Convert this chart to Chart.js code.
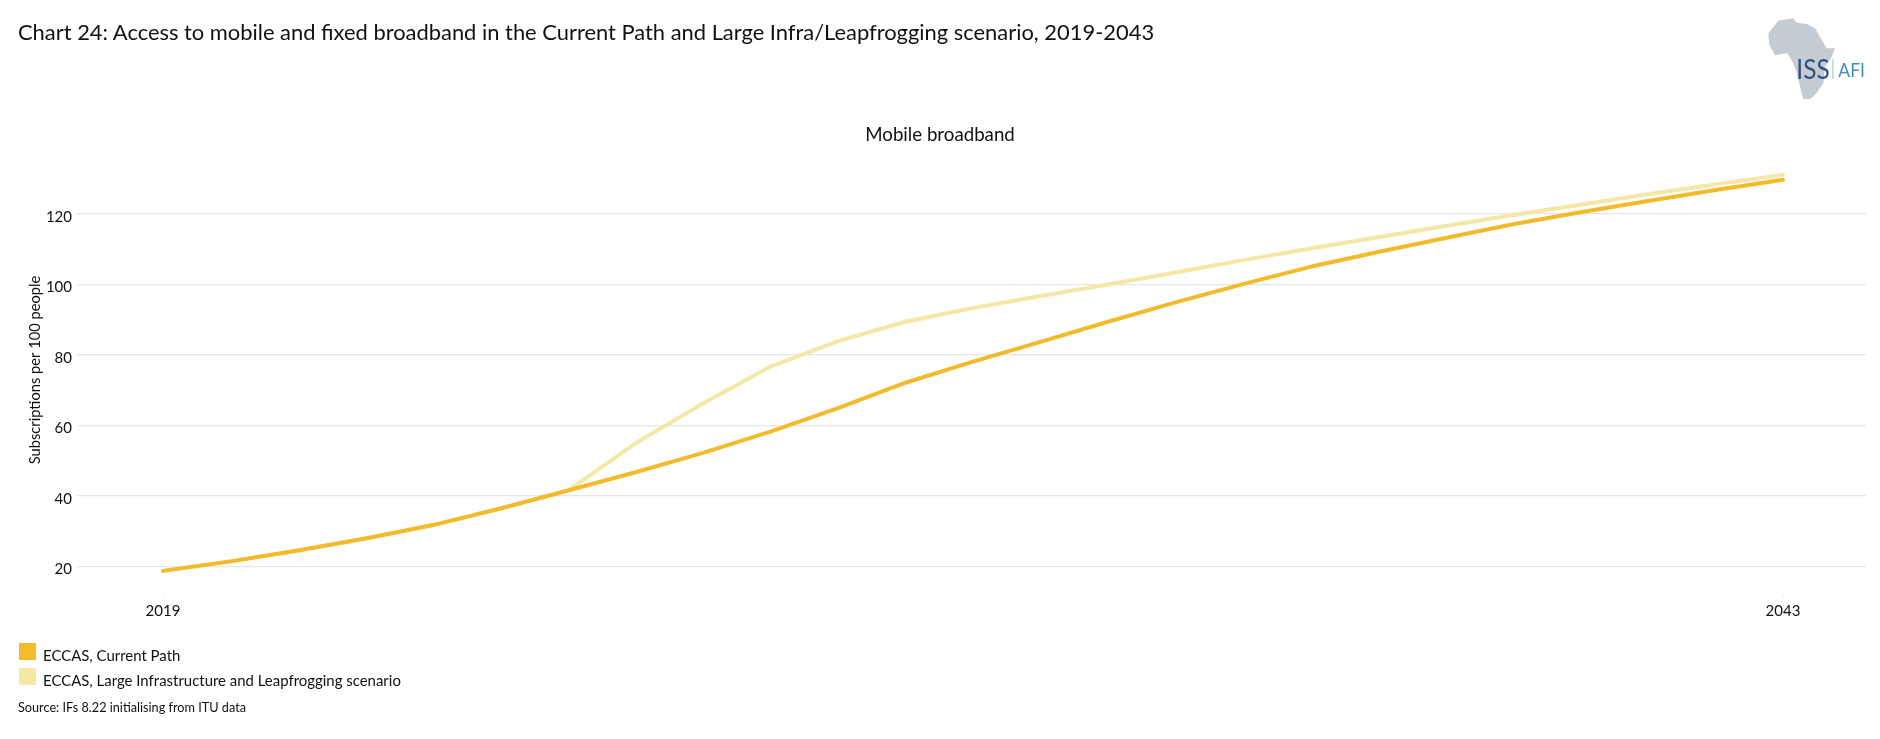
<!DOCTYPE html>
<html>
<head>
<meta charset="utf-8">
<title>Chart 24</title>
<script src="https://cdn.jsdelivr.net/npm/chart.js@4"></script>
<style>
  html, body { margin: 0; padding: 0; background: #fff; }
  body { width: 1880px; height: 739px; position: relative; overflow: hidden; font-family: Lato, sans-serif; color: #111; }
  #wrap { position: absolute; left: 0; top: 0; width: 1880px; height: 739px; }
  .txt { position: absolute; white-space: nowrap; }
  #heading { left: 18px; top: 18px; font-size: 21.9px; line-height: 28px; }
  #source { left: 18px; top: 699px; font-size: 12.7px; line-height: 16px; }
  #legend { position: absolute; left: 0; top: 0; }
  .swatch { position: absolute; left: 19px; width: 17px; height: 17px; }
  .legtxt { left: 43px; font-size: 14.95px; line-height: 20px; }
  #logo { position: absolute; left: 1700px; top: 0; width: 180px; height: 120px; }
</style>
</head>
<body>
<div id="wrap"><canvas id="broadbandChart" width="1880" height="739"></canvas></div>
<div class="txt" id="heading">Chart 24: Access to mobile and fixed broadband in the Current Path and Large Infra/Leapfrogging scenario, 2019-2043</div>
<div id="legend"></div>
<div class="txt" id="source">Source: IFs 8.22 initialising from ITU data</div>
<svg id="logo" viewBox="0 0 540 360">
  <polygon fill="#c5cbd3" points="235,62 280,55 290,68 320,72 345,85 360,110 380,145 405,145 395,170 375,200 370,250 345,285 330,297 310,297 300,260 290,215 280,190 262,160 225,165 208,135 205,100"/>
  <text x="289" y="237" font-family="Lato" font-size="82" fill="#2b5280" textLength="100" lengthAdjust="spacingAndGlyphs">ISS</text>
  <rect x="396" y="178" width="5" height="59" fill="#c4dccb"/>
  <text x="415" y="230" font-family="Lato" font-size="59" fill="#3f8fc9" textLength="80" lengthAdjust="spacingAndGlyphs">AFI</text>
</svg>
<script>
var years = [2019, 2020, 2021, 2022, 2023, 2024, 2025, 2026, 2027, 2028, 2029, 2030, 2031, 2032, 2033, 2034, 2035, 2036, 2037, 2038, 2039, 2040, 2041, 2042, 2043];
var currentPath = [18.7, 21.4, 24.5, 27.9, 31.7, 36.4, 41.5, 46.7, 52.2, 58.2, 64.9, 72.1, 78.1, 83.7, 89.4, 94.9, 100.1, 105, 109.2, 113.2, 117.1, 120.5, 123.7, 126.8, 129.7];
var leapfrogging = [18.7, 21.4, 24.5, 27.9, 31.7, 36.4, 41.5, 54.9, 66.2, 76.7, 83.9, 89.4, 93.3, 96.7, 100, 103.4, 106.9, 110.2, 113.4, 116.6, 119.7, 122.6, 125.6, 128.4, 131.1];
var yTicks = [20, 40, 60, 80, 100, 120];
var xTicks = [2019, 2043];
var seriesNames = ['ECCAS, Current Path', 'ECCAS, Large Infrastructure and Leapfrogging scenario'];
var seriesColors = ['#f2bb2b', '#f5e7a6'];

function toPoints(values) {
    return values.map(function(v, i) { return { x: years[i], y: v }; });
}

var chart = new Chart(document.getElementById('broadbandChart'), {
    type: 'line',
    data: {
        datasets: [{
            label: seriesNames[0],
            data: toPoints(currentPath),
            borderColor: seriesColors[0],
            backgroundColor: seriesColors[0],
            order: 1
        }, {
            label: seriesNames[1],
            data: toPoints(leapfrogging),
            borderColor: seriesColors[1],
            backgroundColor: seriesColors[1],
            order: 2
        }]
    },
    options: {
        responsive: false,
        animation: false,
        elements: {
            point: { radius: 0 },
            line: { borderWidth: 4, tension: 0, borderCapStyle: 'round', borderJoinStyle: 'round' }
        },
        // equal side padding keeps the title centred on the page
        layout: { padding: { left: 14, right: 14, top: 0, bottom: 0 } },
        plugins: {
            legend: { display: false },
            tooltip: { enabled: false },
            title: {
                display: true,
                text: 'Mobile broadband',
                color: '#111',
                font: { family: 'Lato', size: 18.7, weight: 'normal', lineHeight: 1.2 },
                padding: { top: 124, bottom: 0.6 }
            }
        },
        scales: {
            x: {
                type: 'linear',
                min: 2017.785,
                max: 2044.23,
                afterBuildTicks: function(s) { s.ticks = xTicks.map(function(v) { return { value: v }; }); },
                afterFit: function(s) { s.height = 146; },
                grid: { drawOnChartArea: false, color: '#f0f0f0', tickLength: 5 },
                border: { display: false },
                ticks: {
                    color: '#111',
                    padding: 4,
                    maxRotation: 0,
                    autoSkip: false,
                    font: { family: 'Lato', size: 15 },
                    callback: function(v) { return String(v); }
                }
            },
            y: {
                min: 12.42,
                max: 139,
                afterBuildTicks: function(s) { s.ticks = yTicks.map(function(v) { return { value: v }; }); },
                afterFit: function(s) { s.width = 67; },
                grid: { color: '#e6e6e6', lineWidth: 1.3, tickLength: 4 },
                border: { display: false },
                ticks: {
                    color: '#111',
                    padding: 5,
                    labelOffset: 3,
                    font: { family: 'Lato', size: 15 }
                },
                title: {
                    display: true,
                    text: 'Subscriptions per 100 people',
                    color: '#111',
                    font: { family: 'Lato', size: 14.7, lineHeight: 1.2 },
                    padding: { top: 12, bottom: 0 }
                }
            }
        }
    }
});

// html legend, stacked like the original
var legendBox = document.getElementById('legend');
chart.data.datasets.forEach(function(ds, i) {
    var sw = document.createElement('div');
    sw.className = 'swatch';
    sw.style.top = (643 + i * 25) + 'px';
    sw.style.background = ds.borderColor;
    legendBox.appendChild(sw);
    var t = document.createElement('div');
    t.className = 'txt legtxt';
    t.style.top = (645 + i * 25) + 'px';
    t.textContent = ds.label;
    legendBox.appendChild(t);
});
</script>
</body>
</html>
